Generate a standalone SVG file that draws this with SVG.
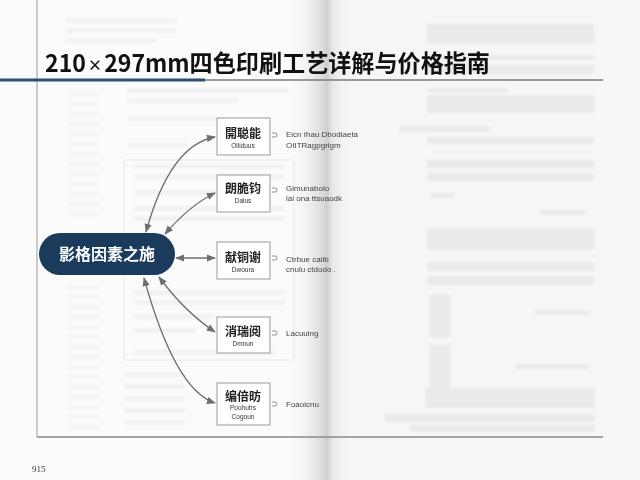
<svg xmlns="http://www.w3.org/2000/svg" width="640" height="480" viewBox="0 0 640 480">
<defs>
<linearGradient id="spine" x1="0" y1="0" x2="1" y2="0">
<stop offset="0" stop-color="#f7f7f7" stop-opacity="0"/>
<stop offset="0.55" stop-color="#d9d9d9"/>
<stop offset="0.62" stop-color="#cfcfcf"/>
<stop offset="0.7" stop-color="#e6e6e6"/>
<stop offset="1" stop-color="#f3f3f3" stop-opacity="0"/>
</linearGradient>
<filter id="blur" x="-10%" y="-10%" width="120%" height="120%"><feGaussianBlur stdDeviation="1.2"/></filter>
<marker id="ah" viewBox="0 0 10 10" refX="9" refY="5" markerWidth="7" markerHeight="7" orient="auto-start-reverse">
<path d="M0,1 L10,5 L0,9 Z" fill="#6f6f6f"/>
</marker>
<style>
.cjk{font-family:"Noto Sans CJK SC","Noto Sans",sans-serif;}
.box{fill:#ffffff;stroke:#9a9a9a;stroke-width:1;}
.lab{font-family:"Noto Sans CJK SC",sans-serif;font-weight:700;font-size:12px;fill:#222;text-anchor:middle;}
.sub{font-family:"Liberation Sans",sans-serif;font-size:6.5px;fill:#333;text-anchor:middle;}
.desc{font-family:"Liberation Sans",sans-serif;font-size:8px;fill:#444;}
.hook{fill:none;stroke:#777;stroke-width:0.8;}
.con{fill:none;stroke:#707070;stroke-width:1.3;marker-start:url(#ah);marker-end:url(#ah);}
.ghost{fill:#9a9a9a;}
</style>
</defs>
<rect width="640" height="480" fill="#f6f6f6"/>
<rect x="0" y="0" width="322" height="480" fill="#fbfbfb"/>
<g id="background-text" filter="url(#blur)" opacity="0.09">
<rect class="ghost" x="66" y="18" width="110" height="5"/>
<rect class="ghost" x="66" y="28" width="110" height="5"/>
<rect class="ghost" x="66" y="38" width="90" height="5"/>
<g opacity="0.7">
<rect class="ghost" x="68" y="92" width="30" height="4"/><rect class="ghost" x="68" y="102" width="30" height="4"/><rect class="ghost" x="68" y="112" width="30" height="4"/><rect class="ghost" x="68" y="122" width="30" height="4"/><rect class="ghost" x="68" y="132" width="30" height="4"/><rect class="ghost" x="68" y="142" width="30" height="4"/><rect class="ghost" x="68" y="152" width="30" height="4"/><rect class="ghost" x="68" y="162" width="30" height="4"/><rect class="ghost" x="68" y="172" width="30" height="4"/><rect class="ghost" x="68" y="182" width="30" height="4"/><rect class="ghost" x="68" y="192" width="30" height="4"/><rect class="ghost" x="68" y="202" width="30" height="4"/><rect class="ghost" x="68" y="212" width="30" height="4"/><rect class="ghost" x="68" y="285" width="30" height="4"/><rect class="ghost" x="68" y="295" width="30" height="4"/><rect class="ghost" x="68" y="305" width="30" height="4"/><rect class="ghost" x="68" y="315" width="30" height="4"/><rect class="ghost" x="68" y="325" width="30" height="4"/><rect class="ghost" x="68" y="335" width="30" height="4"/><rect class="ghost" x="68" y="345" width="30" height="4"/><rect class="ghost" x="68" y="355" width="30" height="4"/><rect class="ghost" x="68" y="365" width="30" height="4"/><rect class="ghost" x="68" y="375" width="30" height="4"/><rect class="ghost" x="68" y="385" width="30" height="4"/><rect class="ghost" x="68" y="395" width="30" height="4"/><rect class="ghost" x="68" y="405" width="30" height="4"/><rect class="ghost" x="68" y="415" width="30" height="4"/><rect class="ghost" x="68" y="425" width="30" height="4"/>
</g>
<rect class="ghost" x="128" y="88" width="160" height="5"/>
<rect class="ghost" x="128" y="98" width="110" height="5"/>
<rect class="ghost" x="128" y="117" width="90" height="4"/>
<rect class="ghost" x="128" y="143" width="60" height="4"/>
<rect class="ghost" x="135" y="164" width="150" height="5"/>
<rect class="ghost" x="135" y="174" width="150" height="5"/>
<rect class="ghost" x="135" y="190" width="90" height="5"/>
<rect class="ghost" x="135" y="206" width="150" height="5"/>
<rect class="ghost" x="135" y="216" width="150" height="5"/>
<rect class="ghost" x="135" y="290" width="150" height="5"/>
<rect class="ghost" x="135" y="300" width="150" height="5"/>
<rect class="ghost" x="135" y="314" width="80" height="5"/>
<rect class="ghost" x="135" y="328" width="60" height="5"/>
<rect class="ghost" x="135" y="350" width="140" height="5"/>
<rect class="ghost" x="125" y="372" width="60" height="5"/>
<rect class="ghost" x="125" y="384" width="60" height="5"/>
<rect class="ghost" x="125" y="396" width="60" height="5"/>
<rect class="ghost" x="125" y="408" width="60" height="5"/>
<rect class="ghost" x="125" y="420" width="60" height="5"/>
</g>
<rect x="124" y="160" width="170" height="200" fill="none" stroke="#d4d4d4" stroke-width="0.8" opacity="0.6"/>
<g id="right-page-text" filter="url(#blur)" opacity="0.12">
<rect class="ghost" x="427" y="24" width="167" height="20"/>
<rect class="ghost" x="427" y="55" width="167" height="5"/>
<rect class="ghost" x="427" y="65" width="167" height="9"/>
<rect class="ghost" x="427" y="88" width="80" height="4"/>
<rect class="ghost" x="427" y="95" width="167" height="18"/>
<rect class="ghost" x="400" y="126" width="90" height="6"/>
<rect class="ghost" x="427" y="137" width="167" height="7"/>
<rect class="ghost" x="427" y="160" width="167" height="8"/>
<rect class="ghost" x="427" y="173" width="167" height="8"/>
<rect class="ghost" x="430" y="193" width="25" height="5"/>
<rect class="ghost" x="540" y="210" width="45" height="5"/>
<rect class="ghost" x="427" y="228" width="167" height="22"/>
<rect class="ghost" x="427" y="262" width="167" height="9"/>
<rect class="ghost" x="427" y="276" width="167" height="9"/>
<rect class="ghost" x="430" y="294" width="20" height="44"/>
<rect class="ghost" x="535" y="310" width="55" height="5"/>
<rect class="ghost" x="430" y="345" width="20" height="45"/>
<rect class="ghost" x="515" y="364" width="75" height="5"/>
<rect class="ghost" x="425" y="388" width="170" height="20"/>
<rect class="ghost" x="385" y="414" width="210" height="8"/>
<rect class="ghost" x="410" y="425" width="185" height="7"/>
</g>
<rect x="290" y="0" width="60" height="480" fill="url(#spine)"/>
<line x1="37" y1="0" x2="37" y2="437" stroke="#999" stroke-width="1"/>
<line x1="37" y1="437" x2="603" y2="437" stroke="#888" stroke-width="1.3"/>
<line x1="0" y1="80" x2="603" y2="80" stroke="#7a7a7a" stroke-width="1.3"/>
<line x1="0" y1="80" x2="205" y2="80" stroke="#2a4f72" stroke-width="3"/>
<text x="45" y="72" class="cjk" font-size="24" font-weight="700" fill="#111" textLength="445" lengthAdjust="spacingAndGlyphs">210<tspan font-size="15" dx="2" dy="-1">×</tspan><tspan dx="2" dy="1">297mm四色印刷工艺详解与价格指南</tspan></text>
<text x="32" y="472" font-family="Liberation Serif,serif" font-size="9" fill="#333">915</text>
<g id="connectors">
<path class="con" d="M146,232 Q170,145 215,137"/>
<path class="con" d="M165,234 Q190,205 215,193"/>
<path class="con" d="M176,258 L215,258"/>
<path class="con" d="M159,277 Q185,312 215,332"/>
<path class="con" d="M144,278 Q175,390 215,403"/>
</g>
<g id="center">
<rect x="39" y="233" width="136" height="42" rx="21" fill="#1b3b5d"/>
<text x="107" y="260" class="cjk" font-size="16" font-weight="700" fill="#fff" text-anchor="middle">影格因素之施</text>
</g>
<g id="box1">
<rect class="box" x="217" y="118" width="53" height="37" stroke="#666"/>
<text class="lab" x="243" y="138">開聪能</text>
<text class="sub" x="243" y="148">Oliiduus</text>
<path class="hook" d="M272,133 h3 a2,2 0 0 1 0,4 h-3"/>
<text class="desc" x="286" y="137">Eicn Ihau Dbodiaeta</text>
<text class="desc" x="286" y="148">OIITRagpgrlgm</text>
</g>
<g id="box2">
<rect class="box" x="217" y="175" width="53" height="37"/>
<text class="lab" x="243" y="193">朗脆钧</text>
<text class="sub" x="243" y="203">Dalus</text>
<path class="hook" d="M272,188 h3 a2,2 0 0 1 0,4 h-3"/>
<text class="desc" x="286" y="191">Gimunabolo</text>
<text class="desc" x="286" y="201">iai ona ttsuaodk</text>
</g>
<g id="box3">
<rect class="box" x="217" y="242" width="53" height="37"/>
<text class="lab" x="243" y="262">献铜谢</text>
<text class="sub" x="243" y="272">Dwoura</text>
<path class="hook" d="M272,256 h3 a2,2 0 0 1 0,4 h-3"/>
<text class="desc" x="286" y="262">Ctrbue caiib</text>
<text class="desc" x="286" y="272">cnulu ctdodo  .</text>
</g>
<g id="box4">
<rect class="box" x="217" y="317" width="53" height="36"/>
<text class="lab" x="243" y="336">消瑞阅</text>
<text class="sub" x="243" y="346">Dmnun</text>
<path class="hook" d="M272,331 h3 a2,2 0 0 1 0,4 h-3"/>
<text class="desc" x="286" y="336">Lacuuing</text>
</g>
<g id="box5">
<rect class="box" x="217" y="383" width="53" height="42"/>
<text class="lab" x="243" y="401">编倍昉</text>
<text class="sub" x="243" y="410">Poohutrs</text>
<text class="sub" x="243" y="419">Cogoun</text>
<path class="hook" d="M272,402 h3 a2,2 0 0 1 0,4 h-3"/>
<text class="desc" x="286" y="407">Foaoicnu</text>
</g>
</svg>
